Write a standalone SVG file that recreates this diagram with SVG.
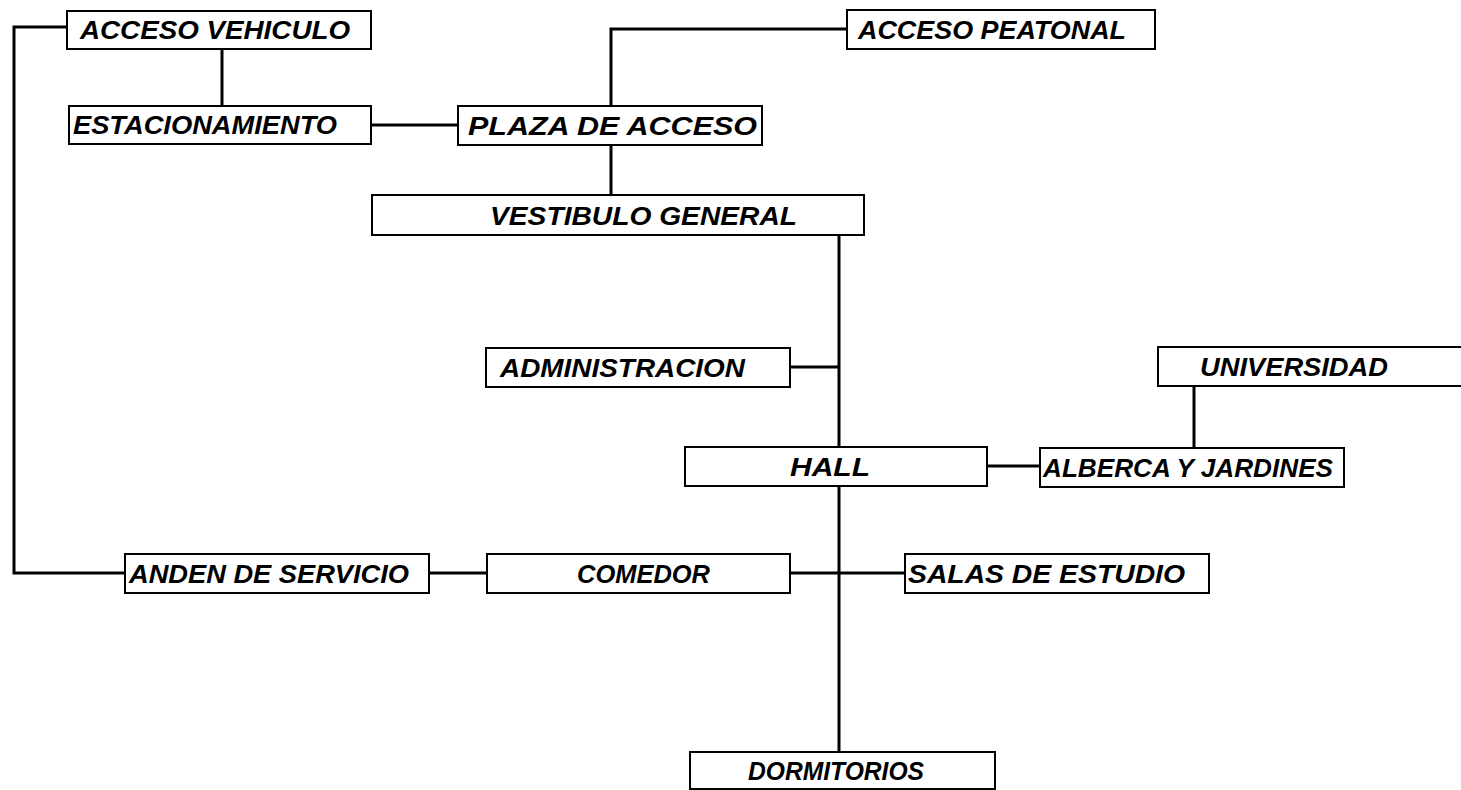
<svg xmlns="http://www.w3.org/2000/svg" width="1461" height="790" viewBox="0 0 1461 790">
<style>
.box{fill:#fff;stroke:#000;stroke-width:2}
.lbl{font-family:"Liberation Sans",Arial,sans-serif;font-weight:bold;font-style:italic;font-size:26px;fill:#000}
.conn{fill:none;stroke:#000;stroke-width:3}
</style>
<rect width="1461" height="790" fill="#fff"/>
<g id="connectors">
<path class="conn" d="M67,27 H14 V573 H125"/>
<path class="conn" d="M222,49 V106"/>
<path class="conn" d="M371,125 H458"/>
<path class="conn" d="M611,106 V29 H847"/>
<path class="conn" d="M611,145 V195"/>
<path class="conn" d="M839,235 V447"/>
<path class="conn" d="M790,367 H839"/>
<path class="conn" d="M839,486 V752"/>
<path class="conn" d="M987,466 H1040"/>
<path class="conn" d="M1194,386 V448"/>
<path class="conn" d="M429,573 H487"/>
<path class="conn" d="M790,573 H905"/>
</g>
<g id="acceso-vehiculo"><rect class="box" x="67" y="11" width="304" height="38"/><text class="lbl" x="80" y="39" textLength="270" lengthAdjust="spacingAndGlyphs">ACCESO  VEHICULO</text></g>
<g id="estacionamiento"><rect class="box" x="69" y="106" width="302" height="38"/><text class="lbl" x="73" y="134" textLength="264" lengthAdjust="spacingAndGlyphs">ESTACIONAMIENTO</text></g>
<g id="plaza-de-acceso"><rect class="box" x="458" y="106" width="304" height="39"/><text class="lbl" x="468" y="135" textLength="289" lengthAdjust="spacingAndGlyphs">PLAZA  DE ACCESO</text></g>
<g id="acceso-peatonal"><rect class="box" x="847" y="10" width="308" height="39"/><text class="lbl" x="858" y="39" textLength="268" lengthAdjust="spacingAndGlyphs">ACCESO  PEATONAL</text></g>
<g id="vestibulo-general"><rect class="box" x="372" y="195" width="492" height="40"/><text class="lbl" x="490" y="225" textLength="307" lengthAdjust="spacingAndGlyphs">VESTIBULO  GENERAL</text></g>
<g id="administracion"><rect class="box" x="486" y="348" width="304" height="39"/><text class="lbl" x="500" y="377" textLength="245" lengthAdjust="spacingAndGlyphs">ADMINISTRACION</text></g>
<g id="universidad"><rect class="box" x="1158" y="347" width="310" height="39"/><text class="lbl" x="1200" y="376" textLength="188" lengthAdjust="spacingAndGlyphs">UNIVERSIDAD</text></g>
<g id="hall"><rect class="box" x="685" y="447" width="302" height="39"/><text class="lbl" x="790" y="476" textLength="80" lengthAdjust="spacingAndGlyphs">HALL</text></g>
<g id="alberca-y-jardines"><rect class="box" x="1040" y="448" width="304" height="39"/><text class="lbl" x="1043" y="477" textLength="290" lengthAdjust="spacingAndGlyphs">ALBERCA Y JARDINES</text></g>
<g id="anden-de-servicio"><rect class="box" x="125" y="554" width="304" height="39"/><text class="lbl" x="129" y="583" textLength="280" lengthAdjust="spacingAndGlyphs">ANDEN DE SERVICIO</text></g>
<g id="comedor"><rect class="box" x="487" y="554" width="303" height="39"/><text class="lbl" x="577" y="583" textLength="133" lengthAdjust="spacingAndGlyphs">COMEDOR</text></g>
<g id="salas-de-estudio"><rect class="box" x="905" y="554" width="304" height="39"/><text class="lbl" x="908" y="583" textLength="277" lengthAdjust="spacingAndGlyphs">SALAS DE ESTUDIO</text></g>
<g id="dormitorios"><rect class="box" x="690" y="752" width="305" height="37"/><text class="lbl" x="748" y="780" textLength="176" lengthAdjust="spacingAndGlyphs">DORMITORIOS</text></g>
</svg>
